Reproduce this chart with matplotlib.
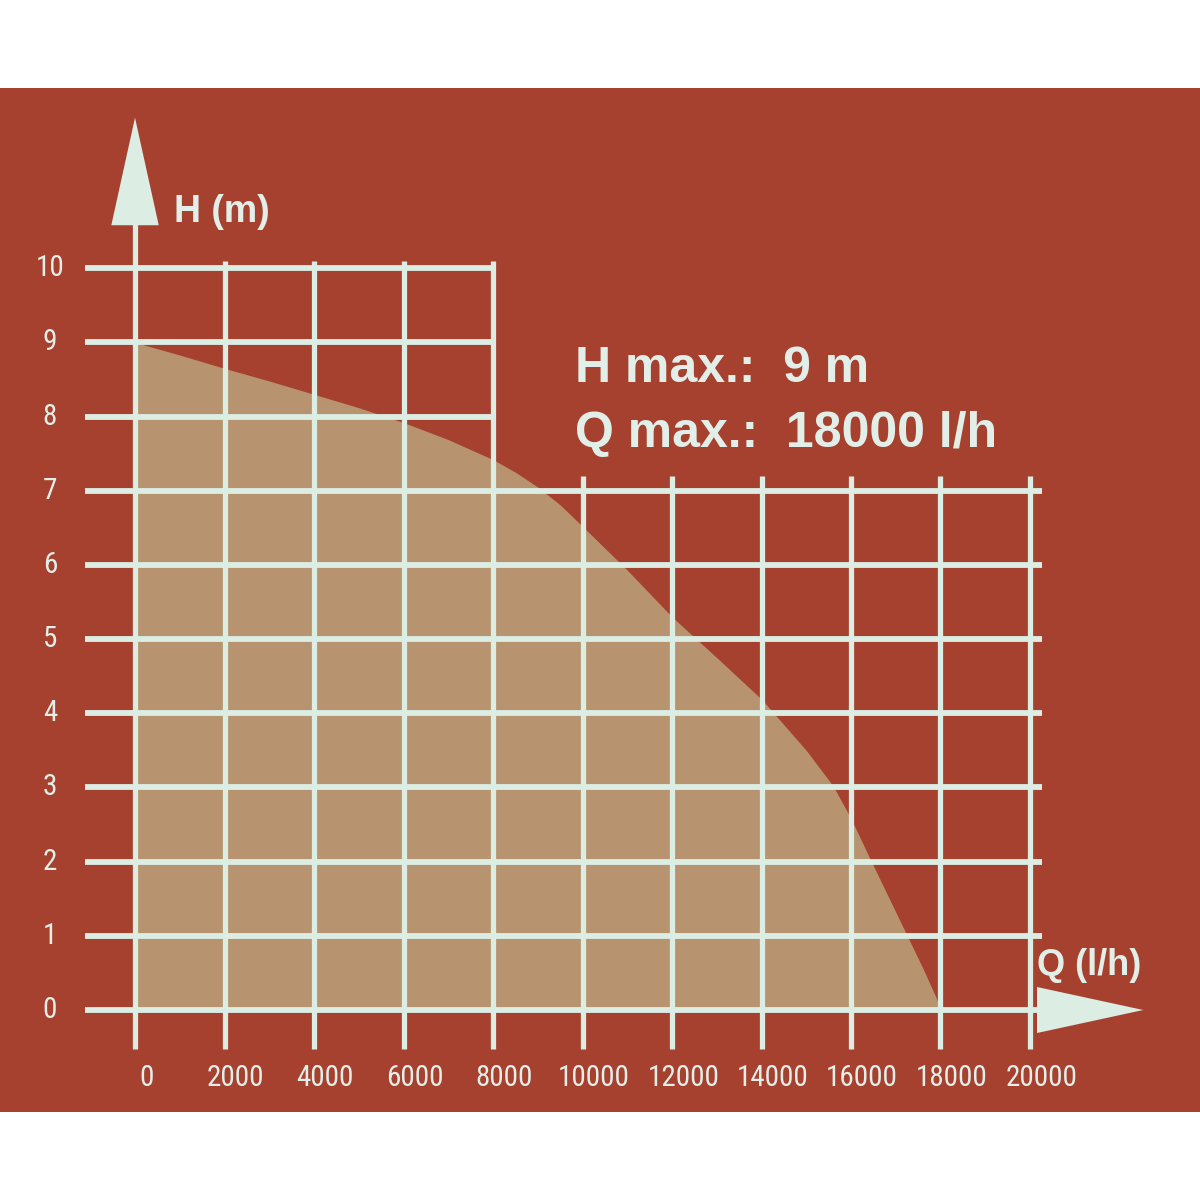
import matplotlib
matplotlib.use("Agg")
import matplotlib.pyplot as plt

# pump curve
flow = [0, 1000, 2000, 3000, 4000, 5000, 6000, 7000, 8000, 8500, 9000, 9500,
        10000, 11000, 12000, 13000, 14000, 15000, 15600, 16000, 16400, 16800,
        17200, 17600, 17900, 18000]
head = [9.0, 8.83, 8.65, 8.48, 8.3, 8.12, 7.92, 7.69, 7.42, 7.25, 7.05, 6.81,
        6.52, 5.93, 5.3, 4.75, 4.19, 3.5, 3.02, 2.58, 2.07, 1.57,
        1.07, 0.57, 0.17, 0.0]

q_ticks = [0, 2000, 4000, 6000, 8000, 10000, 12000, 14000, 16000, 18000, 20000]
h_ticks = [0, 1, 2, 3, 4, 5, 6, 7, 8, 9, 10]
info_lines = ["H max.:  9 m", "Q max.:  18000 l/h"]

red = "#a7412f"
tan = "#b7946f"
line_col = "#dcede4"
text_col = "#e2efe9"

fig = plt.figure(figsize=(12, 12), dpi=100, facecolor="white")
ax = fig.add_axes([0, 88 / 1200, 1, 1024 / 1200])
ax.set_facecolor(red)
for s in ax.spines.values():
    s.set_visible(False)
ax.set_xticks([])
ax.set_yticks([])
ax.set_xlim(-3017, 23799)
ax.set_ylim(-1.375, 12.43)

# filled curve area
ax.fill_between(flow, head, 0, color=tan, linewidth=0, zorder=1)

lw = 4.2
# horizontal grid lines
for h in h_ticks:
    right = 20270 if h <= 7 else 8050
    ax.plot([-1120, right], [h, h], color=line_col, lw=lw, solid_capstyle="butt", zorder=2)

# vertical grid lines
for q in q_ticks:
    if q == 0:
        top = 10.6
    elif q <= 8000:
        top = 10.1
    else:
        top = 7.2
    ax.plot([q, q], [-0.52, top], color=line_col, lw=lw * 0.9, solid_capstyle="butt", zorder=2)

# axis arrows
ax.fill([-530, 530, 0], [10.58, 10.58, 12.03], color=line_col, lw=0, zorder=3)
ax.fill([20157, 20157, 22531], [-0.31, 0.31, 0.0], color=line_col, lw=0, zorder=3)

tick_font = dict(family=["Liberation Sans Narrow", "Roboto Condensed", "DejaVu Sans"],
                 fontstretch="condensed", fontsize=21, color=text_col)
for q in q_ticks:
    ax.text(q + 250, -0.92, str(q), ha="center", va="center", **tick_font)
for h in h_ticks:
    ax.text(-1900, h, str(h), ha="center", va="center", **tick_font)

bold_font = dict(family=["Liberation Sans", "DejaVu Sans"], fontweight="bold", color=text_col)
ax.text(872, 10.62, "H (m)", ha="left", va="baseline", fontsize=27, **bold_font)
ax.text(20156, 0.47, "Q (l/h)", ha="left", va="baseline", fontsize=26, **bold_font)
ax.text(9832, 8.46, info_lines[0], ha="left", va="baseline", fontsize=36, **bold_font)
ax.text(9832, 7.59, info_lines[1], ha="left", va="baseline", fontsize=36, **bold_font)

fig.savefig("out.png", dpi=100, facecolor="white")
